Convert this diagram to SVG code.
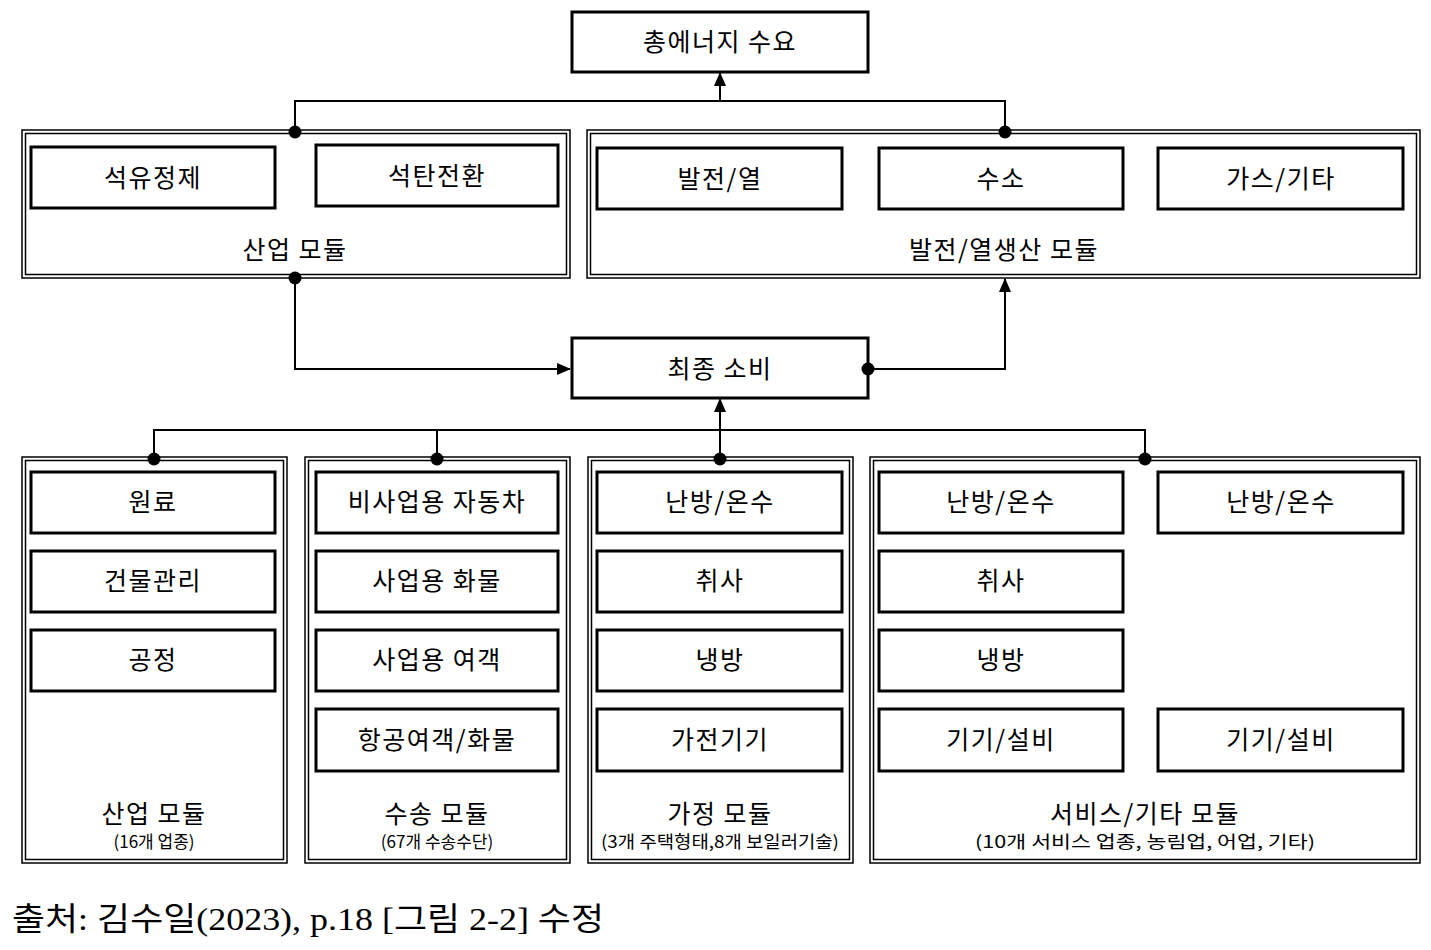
<svg xmlns="http://www.w3.org/2000/svg" width="1431" height="950" viewBox="0 0 1431 950">
<style>
.b{fill:#fff;stroke:#000;stroke-width:3}
.o{fill:none;stroke:#000;stroke-width:1.5}
.t{font-family:"Noto Sans CJK KR","Noto Sans",sans-serif;font-size:25px;letter-spacing:1.5px;text-anchor:middle;fill:#000}
.s{font-family:"Noto Sans CJK KR","Noto Sans",sans-serif;font-size:17px;text-anchor:middle;fill:#000}
.l{fill:none;stroke:#000;stroke-width:2}
</style>
<defs><marker id="a" markerWidth="14" markerHeight="12" refX="13" refY="6" orient="auto" markerUnits="userSpaceOnUse"><path d="M0,0L14,6L0,12z"/></marker></defs>
<rect width="1431" height="950" fill="#fff"/>
<g id="total"><rect class="b" x="572" y="12" width="296" height="60"/><text class="t" x="720" y="51">총에너지 수요</text></g>
<g id="industry-top"><rect class="o" x="22" y="130" width="548" height="148"/><rect class="o" x="25.5" y="133.5" width="541" height="141"/>
<rect class="b" x="31" y="147" width="244" height="61"/><text class="t" x="153" y="187">석유정제</text>
<rect class="b" x="316" y="145" width="242" height="61"/><text class="t" x="437" y="185">석탄전환</text>
<text class="t" x="295" y="259">산업 모듈</text></g>
<g id="power"><rect class="o" x="587" y="130" width="833" height="148"/><rect class="o" x="590.5" y="133.5" width="826" height="141"/>
<rect class="b" x="597" y="148" width="245" height="61"/><text class="t" x="720" y="188">발전/열</text>
<rect class="b" x="879" y="148" width="244" height="61"/><text class="t" x="1001" y="188">수소</text>
<rect class="b" x="1158" y="148" width="245" height="61"/><text class="t" x="1281" y="188">가스/기타</text>
<text class="t" x="1004" y="259">발전/열생산 모듈</text></g>
<g id="final"><rect class="b" x="572" y="338" width="296" height="60"/><text class="t" x="720" y="378">최종 소비</text></g>
<g id="industry"><rect class="o" x="22" y="457" width="265" height="406"/><rect class="o" x="25.5" y="460.5" width="258" height="399"/>
<rect class="b" x="31" y="472" width="244" height="61"/><text class="t" x="153" y="511">원료</text>
<rect class="b" x="31" y="551" width="244" height="61"/><text class="t" x="153" y="590">건물관리</text>
<rect class="b" x="31" y="630" width="244" height="61"/><text class="t" x="153" y="669">공정</text>
<text class="t" x="154" y="823">산업 모듈</text><text class="s" x="154" y="848">(16개 업종)</text></g>
<g id="transport"><rect class="o" x="305" y="457" width="265" height="406"/><rect class="o" x="308.5" y="460.5" width="258" height="399"/>
<rect class="b" x="316" y="472" width="242" height="61"/><text class="t" x="437" y="511">비사업용 자동차</text>
<rect class="b" x="316" y="551" width="242" height="61"/><text class="t" x="437" y="590">사업용 화물</text>
<rect class="b" x="316" y="630" width="242" height="61"/><text class="t" x="437" y="669">사업용 여객</text>
<rect class="b" x="316" y="709" width="242" height="62"/><text class="t" x="437" y="749">항공여객/화물</text>
<text class="t" x="437" y="823">수송 모듈</text><text class="s" x="437" y="848">(67개 수송수단)</text></g>
<g id="household"><rect class="o" x="588" y="457" width="265" height="406"/><rect class="o" x="591.5" y="460.5" width="258" height="399"/>
<rect class="b" x="597" y="472" width="245" height="61"/><text class="t" x="720" y="511">난방/온수</text>
<rect class="b" x="597" y="551" width="245" height="61"/><text class="t" x="720" y="590">취사</text>
<rect class="b" x="597" y="630" width="245" height="61"/><text class="t" x="720" y="669">냉방</text>
<rect class="b" x="597" y="709" width="245" height="62"/><text class="t" x="720" y="749">가전기기</text>
<text class="t" x="720" y="823">가정 모듈</text><text class="s" x="720" y="848" textLength="238" lengthAdjust="spacingAndGlyphs">(3개 주택형태,8개 보일러기술)</text></g>
<g id="service"><rect class="o" x="870" y="457" width="550" height="406"/><rect class="o" x="873.5" y="460.5" width="543" height="399"/>
<rect class="b" x="879" y="472" width="244" height="61"/><text class="t" x="1001" y="511">난방/온수</text>
<rect class="b" x="1158" y="472" width="245" height="61"/><text class="t" x="1281" y="511">난방/온수</text>
<rect class="b" x="879" y="551" width="244" height="61"/><text class="t" x="1001" y="590">취사</text>
<rect class="b" x="879" y="630" width="244" height="61"/><text class="t" x="1001" y="669">냉방</text>
<rect class="b" x="879" y="709" width="244" height="62"/><text class="t" x="1001" y="749">기기/설비</text>
<rect class="b" x="1158" y="709" width="245" height="62"/><text class="t" x="1281" y="749">기기/설비</text>
<text class="t" x="1145" y="823">서비스/기타 모듈</text><text class="s" x="1145" y="848" textLength="340" lengthAdjust="spacingAndGlyphs">(10개 서비스 업종, 농림업, 어업, 기타)</text></g>
<g id="connectors">
<path class="l" d="M295,132V101H1005V132"/>
<path class="l" d="M720,101V73" marker-end="url(#a)"/>
<path class="l" d="M295,278V369H570" marker-end="url(#a)"/>
<path class="l" d="M868,369H1005V279" marker-end="url(#a)"/>
<path class="l" d="M154,459V430H1145V459M437,430V459"/>
<path class="l" d="M720,459V399" marker-end="url(#a)"/>
<g fill="#000"><circle cx="295" cy="132" r="6.5"/><circle cx="1005" cy="132" r="6.5"/><circle cx="295" cy="278" r="6.5"/><circle cx="868" cy="369" r="6.5"/><circle cx="154" cy="459" r="6.5"/><circle cx="437" cy="459" r="6.5"/><circle cx="720" cy="459" r="6.5"/><circle cx="1145" cy="459" r="6.5"/></g>
</g>
<text x="12" y="930" font-family="'Liberation Serif','Noto Sans CJK KR',serif" font-size="32" textLength="592" lengthAdjust="spacingAndGlyphs">출처: 김수일(2023), p.18 [그림 2-2] 수정</text>
</svg>
